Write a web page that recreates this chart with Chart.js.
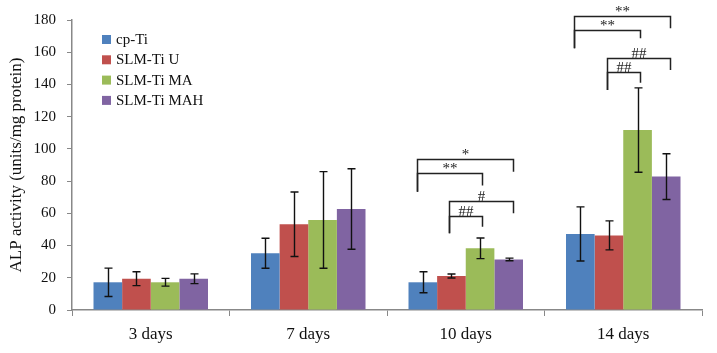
<!DOCTYPE html>
<html>
<head>
<meta charset="utf-8">
<script src="https://cdn.jsdelivr.net/npm/chart.js@4/dist/chart.umd.min.js"></script>
<style>
  html, body { margin: 0; padding: 0; background: #fff; }
  #wrap { width: 717px; height: 353px; }
</style>
</head>
<body>
<div id="wrap"><canvas id="alp"></canvas></div>
<script>
// groups and series
var days = ["3 days", "7 days", "10 days", "14 days"];
var seriesNames = ["cp-Ti", "SLM-Ti U", "SLM-Ti MA", "SLM-Ti MAH"];
var seriesColors = ["#4F81BD", "#C0504D", "#9BBB59", "#8064A2"];

// ALP activity (units/mg protein), mean and +/- error
var cpTi = [17.2, 35.2, 17.2, 47.2];
var cpTiErr = [8.8, 9.3, 6.5, 16.8];
var slmU = [19.4, 53.2, 21.1, 46.3];
var slmUErr = [4.3, 20.0, 1.2, 9.0];
var slmMA = [17.2, 55.9, 38.3, 111.7];
var slmMAErr = [2.4, 30.0, 6.4, 26.2];
var slmMAH = [19.4, 62.7, 31.4, 82.8];
var slmMAHErr = [3.0, 25.0, 0.8, 14.2];

var yTicks = [0, 20, 40, 60, 80, 100, 120, 140, 160, 180];

// significance brackets: [day index, from series, to series, level, left foot, right foot, label]
var brackets = [
    [2, 0, 3, 93.7, 73.4, 85.8, "*"],
    [2, 0, 2, 84.8, 73.4, 77.2, "**"],
    [2, 1, 3, 67.9, 47.6, 60.0, "#"],
    [2, 1, 2, 58.5, 47.6, 51.7, "##"],
    [3, 0, 3, 182.7, 162.4, 174.9, "**"],
    [3, 0, 2, 173.8, 162.4, 168.7, "**"],
    [3, 1, 3, 156.4, 136.6, 149.0, "##"],
    [3, 1, 2, 147.7, 136.6, 141.1, "##"]
];

var values = [cpTi, slmU, slmMA, slmMAH];
var errors = [cpTiErr, slmUErr, slmMAErr, slmMAHErr];
var serif = "'Liberation Serif', 'DejaVu Serif', serif";
var bracketShift = [-6, -2, 2, 4];

var errorBars = {
    id: 'errorBars',
    afterDatasetsDraw: function (chart) {
        var ctx = chart.ctx, y = chart.scales.y;
        ctx.save();
        ctx.strokeStyle = '#111';
        ctx.lineWidth = 1.4;
        chart.data.datasets.forEach(function (ds, i) {
            chart.getDatasetMeta(i).data.forEach(function (bar, j) {
                var hi = y.getPixelForValue(ds.data[j] + errors[i][j]);
                var lo = y.getPixelForValue(ds.data[j] - errors[i][j]);
                var x = Math.round(bar.x) + 0.5;
                ctx.beginPath();
                ctx.moveTo(x, hi); ctx.lineTo(x, lo);
                ctx.moveTo(x - 4, hi); ctx.lineTo(x + 4, hi);
                ctx.moveTo(x - 4, lo); ctx.lineTo(x + 4, lo);
                ctx.stroke();
            });
        });
        ctx.restore();
    }
};

var sigMarks = {
    id: 'sigMarks',
    afterDraw: function (chart) {
        var ctx = chart.ctx, y = chart.scales.y;
        ctx.save();
        ctx.strokeStyle = '#222';
        ctx.lineWidth = 1.5;
        ctx.fillStyle = '#222';
        ctx.font = '15px ' + serif;
        ctx.textAlign = 'center';
        ctx.textBaseline = 'bottom';
        brackets.forEach(function (b) {
            var x1 = Math.round(chart.getDatasetMeta(b[1]).data[b[0]].x + bracketShift[b[1]]) + 0.5;
            var x2 = Math.round(chart.getDatasetMeta(b[2]).data[b[0]].x + bracketShift[b[2]]) + 0.5;
            var yl = Math.round(y.getPixelForValue(b[3])) + 0.5;
            ctx.beginPath();
            ctx.moveTo(x1, y.getPixelForValue(b[4]));
            ctx.lineTo(x1, yl);
            ctx.lineTo(x2, yl);
            ctx.lineTo(x2, y.getPixelForValue(b[5]));
            ctx.stroke();
            ctx.fillText(b[6], (x1 + x2) / 2, yl + 3);
        });
        ctx.restore();
    }
};

var boxLegend = {
    id: 'boxLegend',
    afterDraw: function (chart) {
        var ctx = chart.ctx, area = chart.chartArea;
        ctx.save();
        ctx.font = '15px ' + serif;
        ctx.textBaseline = 'middle';
        chart.data.datasets.forEach(function (ds, i) {
            var cy = area.top + 20 + i * 20.3;
            ctx.fillStyle = ds.backgroundColor;
            ctx.fillRect(area.left + 30, cy - 5, 9, 9);
            ctx.fillStyle = '#111';
            ctx.fillText(ds.label, area.left + 44, cy);
        });
        ctx.restore();
    }
};

var ctx = document.getElementById("alp");
var myChart = new Chart(ctx, {
    type: 'bar',
    data: {
        labels: days,
        datasets: seriesNames.map(function (name, i) {
            return {
                label: name,
                data: values[i],
                backgroundColor: seriesColors[i],
                borderWidth: 0,
                categoryPercentage: 0.727,
                barPercentage: 1.0
            };
        })
    },
    options: {
        responsive: true,
        maintainAspectRatio: false,
        animation: false,
        layout: { padding: { left: 4, right: 15, top: 20, bottom: 0 } },
        plugins: {
            legend: { display: false },
            tooltip: { enabled: false }
        },
        scales: {
            x: {
                grid: { offset: true, drawOnChartArea: false, tickLength: 6, color: '#888' },
                border: { color: '#888', width: 1.5 },
                ticks: { color: '#111', padding: 8, font: { family: serif, size: 17 } },
                afterFit: function (s) { s.height = 43; }
            },
            y: {
                min: 0,
                max: 180,
                afterBuildTicks: function (s) { s.ticks = yTicks.map(function (v) { return { value: v }; }); },
                grid: { drawOnChartArea: false, tickLength: 5, color: '#888' },
                border: { color: '#888', width: 1.5 },
                ticks: { color: '#111', padding: 11, font: { family: serif, size: 15 } },
                title: {
                    display: true,
                    text: 'ALP activity (units/mg protein)',
                    color: '#111',
                    padding: { top: 2, bottom: 0 },
                    font: { family: serif, size: 17 }
                },
                afterFit: function (s) { s.width = 68; }
            }
        }
    },
    plugins: [errorBars, sigMarks, boxLegend]
});
</script>
</body>
</html>
